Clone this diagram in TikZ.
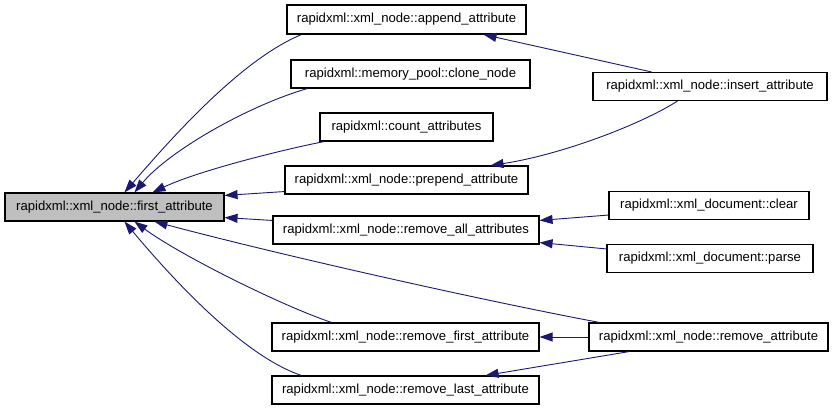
\documentclass[tikz,border=0pt]{standalone}
\usepackage{fontspec}
\setmainfont{Liberation Sans}
\usetikzlibrary{arrows.meta,calc}
\definecolor{edgeblue}{RGB}{25,25,112}
\begin{document}
\begin{tikzpicture}[x=1pt,y=-1pt,
  box/.style={draw=black,line width=1.1pt,fill=white,inner sep=0pt,minimum height=28pt,
    font=\fontsize{13.1}{15}\selectfont},
  hl/.style={box,fill={rgb,255:red,191;green,191;blue,191}},
  edge/.style={draw=edgeblue,line width=0.9pt,-{Triangle[length=13pt,width=9pt]},fill=none}]
\useasboundingbox (0,0) rectangle (835,411);
% nodes
\node[hl,minimum width=219pt]  (first)   at (114.5,207) {rapidxml::xml\_node::first\_attribute};
\node[box,minimum width=239pt,minimum height=29pt] (append) at (406.5,19.5) {rapidxml::xml\_node::append\_attribute};
\node[box,minimum width=239pt] (clone)   at (410.5,74)  {rapidxml::memory\_pool::clone\_node};
\node[box,minimum width=173pt] (count)   at (406.5,127) {rapidxml::count\_attributes};
\node[box,minimum width=243pt] (prepend) at (406.5,180) {rapidxml::xml\_node::prepend\_attribute};
\node[box,minimum width=266pt] (rall)    at (406,230)   {rapidxml::xml\_node::remove\_all\_attributes};
\node[box,minimum width=267pt] (rfirst)  at (405.5,337) {rapidxml::xml\_node::remove\_first\_attribute};
\node[box,minimum width=267pt] (rlast)   at (405.5,390) {rapidxml::xml\_node::remove\_last\_attribute};
\node[box,minimum width=234pt] (insert)  at (710,86.5)  {rapidxml::xml\_node::insert\_attribute};
\node[box,minimum width=200pt] (clear)   at (709,205.5) {rapidxml::xml\_document::clear};
\node[box,minimum width=206pt] (parse)   at (710,258.5) {rapidxml::xml\_document::parse};
\node[box,minimum width=239pt] (rattr)   at (708.5,337) {rapidxml::xml\_node::remove\_attribute};
% edges
\draw[edge] ($(append.south west)+(15,0)$) .. controls (240,60) and (170,140) .. ($(first.north west)+(120,0)$);
\draw[edge] ($(clone.south west)+(17,0)$) .. controls (250,105) and (170,150) .. ($(first.north west)+(130,0)$);
\draw[edge] ($(count.south west)+(5,0)$) .. controls (290,148) and (200,170) .. ($(first.north west)+(148,0)$);
\draw[edge] ($(prepend.south west)+(0,-3)$) -- ($(first.north east)+(0,3)$);
\draw[edge] ($(rall.north west)+(0,5)$) -- ($(first.south east)+(0,-4)$);
\draw[edge] ($(rattr.north west)+(11,0)$) .. controls (480,300) and (280,255) .. ($(first.south west)+(150,0)$);
\draw[edge] ($(rfirst.north west)+(60,0)$) .. controls (280,305) and (180,255) .. ($(first.south west)+(130,0)$);
\draw[edge] ($(rlast.north west)+(30,0)$) .. controls (240,355) and (165,270) .. ($(first.south west)+(120,0)$);
\draw[edge] ($(insert.north west)+(59,0)$) -- ($(append.south east)+(-43,0)$);
\draw[edge] ($(insert.south west)+(85,0)$) .. controls (640,125) and (560,155) .. ($(prepend.north east)+(-38,0)$);
\draw[edge] ($(clear.south west)+(0,-5)$) -- ($(rall.north east)+(0,5)$);
\draw[edge] ($(parse.north west)+(0,5)$) -- ($(rall.south east)+(0,-2)$);
\draw[edge] (rattr.west) -- (rfirst.east);
\draw[edge] ($(rattr.south west)+(41,0)$) -- ($(rlast.north east)+(-54,0)$);
\end{tikzpicture}
\end{document}
